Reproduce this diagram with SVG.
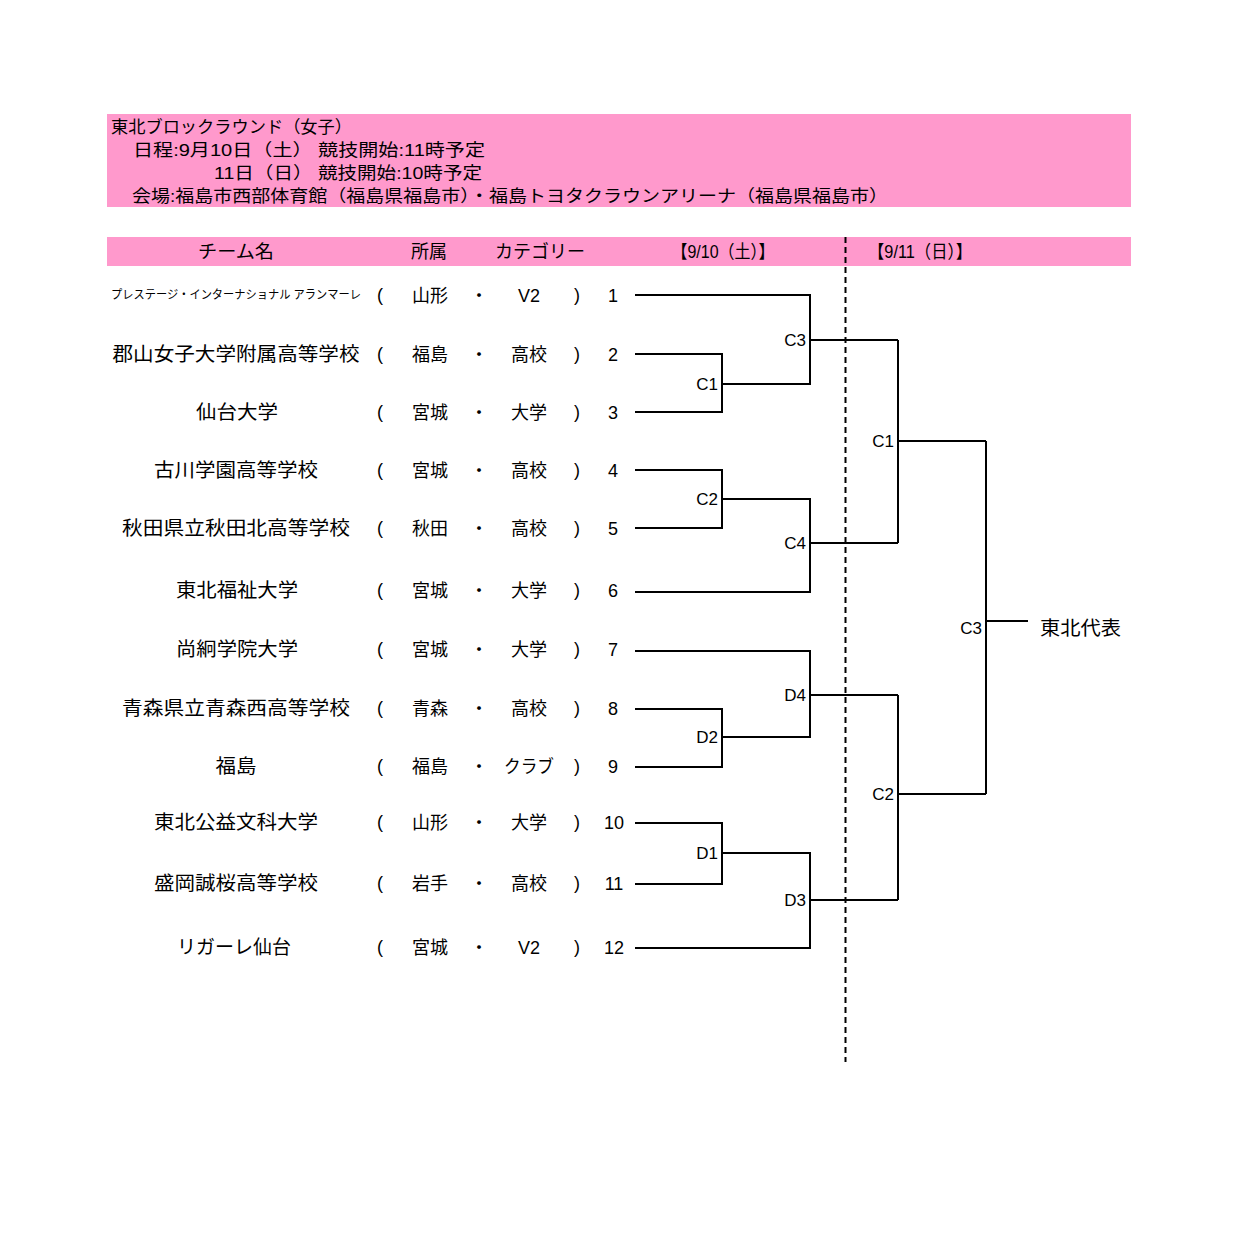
<svg xmlns="http://www.w3.org/2000/svg" width="1241" height="1241" viewBox="0 0 1241 1241">
<style>
text{font-family:"Liberation Sans","Noto Sans CJK JP",sans-serif;fill:#000}
.hd{font-size:17px}
.tm{font-size:19px;text-anchor:middle}
.c{font-size:18px;text-anchor:middle}
.p{font-size:18px;text-anchor:middle}
.lb{font-size:17px;text-anchor:end}
.ln{fill:none;stroke:#000;stroke-width:2}
.pink{fill:#FF99CC}
</style>
<rect width="1241" height="1241" fill="#fff"/>
<g id="header">
<rect class="pink" x="107" y="114" width="1024" height="93"/>
<text class="hd" x="111" y="133" textLength="241" lengthAdjust="spacingAndGlyphs">東北ブロックラウンド（女子）</text>
<text class="hd" x="133" y="156" textLength="352" lengthAdjust="spacingAndGlyphs">日程:9月10日（土） 競技開始:11時予定</text>
<text class="hd" x="214" y="179" textLength="268" lengthAdjust="spacingAndGlyphs">11日（日） 競技開始:10時予定</text>
<text class="hd" x="132" y="202" textLength="756" lengthAdjust="spacingAndGlyphs">会場:福島市西部体育館（福島県福島市）・福島トヨタクラウンアリーナ（福島県福島市）</text>
</g>
<g id="column-header">
<rect class="pink" x="107" y="237" width="1024" height="29"/>
<text class="c" x="236" y="258" textLength="76" lengthAdjust="spacingAndGlyphs">チーム名</text>
<text class="c" x="429" y="258">所属</text>
<text class="c" x="540" y="258" textLength="90" lengthAdjust="spacingAndGlyphs">カテゴリー</text>
<text class="c" x="723" y="258" textLength="103" lengthAdjust="spacingAndGlyphs">【9/10（土）】</text>
<text class="c" x="920" y="258" textLength="104" lengthAdjust="spacingAndGlyphs">【9/11（日）】</text>
</g>
<g id="connectors">
<path class="ln" d="M845.5 237V1062" stroke-width="1.5" stroke-dasharray="6 4"/>
<path class="ln" d="M635 295H810V384H722M635 354H722V412H635M810 340H898"/>
<path class="ln" d="M635 470H722V528H635M722 499H810V592H635M810 543H898"/>
<path class="ln" d="M898 340V543M898 441H986"/>
<path class="ln" d="M635 651H810V737H722M635 709H722V767H635M810 695H898"/>
<path class="ln" d="M635 823H722V884H635M722 853H810V948H635M810 900H898"/>
<path class="ln" d="M898 695V900M898 794H986"/>
<path class="ln" d="M986 441V794M986 621H1028"/>
</g>
<g id="team1"><text class="tm" x="236" y="299" style="font-size:12px" textLength="250" lengthAdjust="spacingAndGlyphs">プレステージ・インターナショナル アランマーレ</text><text class="p" x="380" y="301">(</text><text class="c" x="430" y="302">山形</text><text class="c" x="479" y="302">・</text><text class="c" x="529" y="302">V2</text><text class="p" x="577" y="301">)</text><text class="c" x="613" y="302">1</text></g>
<g id="team2"><text class="tm" x="236" y="361" textLength="247" lengthAdjust="spacingAndGlyphs">郡山女子大学附属高等学校</text><text class="p" x="380" y="360">(</text><text class="c" x="430" y="361">福島</text><text class="c" x="479" y="361">・</text><text class="c" x="529" y="361">高校</text><text class="p" x="577" y="360">)</text><text class="c" x="613" y="361">2</text></g>
<g id="team3"><text class="tm" x="237" y="419" textLength="82" lengthAdjust="spacingAndGlyphs">仙台大学</text><text class="p" x="380" y="418">(</text><text class="c" x="430" y="419">宮城</text><text class="c" x="479" y="419">・</text><text class="c" x="529" y="419">大学</text><text class="p" x="577" y="418">)</text><text class="c" x="613" y="419">3</text></g>
<g id="team4"><text class="tm" x="236" y="477" textLength="164" lengthAdjust="spacingAndGlyphs">古川学園高等学校</text><text class="p" x="380" y="476">(</text><text class="c" x="430" y="477">宮城</text><text class="c" x="479" y="477">・</text><text class="c" x="529" y="477">高校</text><text class="p" x="577" y="476">)</text><text class="c" x="613" y="477">4</text></g>
<g id="team5"><text class="tm" x="236" y="535" textLength="228" lengthAdjust="spacingAndGlyphs">秋田県立秋田北高等学校</text><text class="p" x="380" y="534">(</text><text class="c" x="430" y="535">秋田</text><text class="c" x="479" y="535">・</text><text class="c" x="529" y="535">高校</text><text class="p" x="577" y="534">)</text><text class="c" x="613" y="535">5</text></g>
<g id="team6"><text class="tm" x="237" y="597" textLength="122" lengthAdjust="spacingAndGlyphs">東北福祉大学</text><text class="p" x="380" y="596">(</text><text class="c" x="430" y="597">宮城</text><text class="c" x="479" y="597">・</text><text class="c" x="529" y="597">大学</text><text class="p" x="577" y="596">)</text><text class="c" x="613" y="597">6</text></g>
<g id="team7"><text class="tm" x="237" y="656" textLength="122" lengthAdjust="spacingAndGlyphs">尚絅学院大学</text><text class="p" x="380" y="655">(</text><text class="c" x="430" y="656">宮城</text><text class="c" x="479" y="656">・</text><text class="c" x="529" y="656">大学</text><text class="p" x="577" y="655">)</text><text class="c" x="613" y="656">7</text></g>
<g id="team8"><text class="tm" x="236" y="715" textLength="228" lengthAdjust="spacingAndGlyphs">青森県立青森西高等学校</text><text class="p" x="380" y="714">(</text><text class="c" x="430" y="715">青森</text><text class="c" x="479" y="715">・</text><text class="c" x="529" y="715">高校</text><text class="p" x="577" y="714">)</text><text class="c" x="613" y="715">8</text></g>
<g id="team9"><text class="tm" x="236" y="773" textLength="41" lengthAdjust="spacingAndGlyphs">福島</text><text class="p" x="380" y="772">(</text><text class="c" x="430" y="773">福島</text><text class="c" x="479" y="773">・</text><text class="c" x="529" y="773" textLength="50" lengthAdjust="spacingAndGlyphs">クラブ</text><text class="p" x="577" y="772">)</text><text class="c" x="613" y="773">9</text></g>
<g id="team10"><text class="tm" x="236" y="829" textLength="164" lengthAdjust="spacingAndGlyphs">東北公益文科大学</text><text class="p" x="380" y="828">(</text><text class="c" x="430" y="829">山形</text><text class="c" x="479" y="829">・</text><text class="c" x="529" y="829">大学</text><text class="p" x="577" y="828">)</text><text class="c" x="614" y="829">10</text></g>
<g id="team11"><text class="tm" x="236" y="890" textLength="164" lengthAdjust="spacingAndGlyphs">盛岡誠桜高等学校</text><text class="p" x="380" y="889">(</text><text class="c" x="430" y="890">岩手</text><text class="c" x="479" y="890">・</text><text class="c" x="529" y="890">高校</text><text class="p" x="577" y="889">)</text><text class="c" x="614" y="890">11</text></g>
<g id="team12"><text class="tm" x="234" y="954" textLength="114" lengthAdjust="spacingAndGlyphs">リガーレ仙台</text><text class="p" x="380" y="953">(</text><text class="c" x="430" y="954">宮城</text><text class="c" x="479" y="954">・</text><text class="c" x="529" y="954">V2</text><text class="p" x="577" y="953">)</text><text class="c" x="614" y="954">12</text></g>
<g id="match-C1-r1"><text class="lb" x="718" y="390">C1</text></g>
<g id="match-C2-r1"><text class="lb" x="718" y="505">C2</text></g>
<g id="match-C3-r2"><text class="lb" x="806" y="346">C3</text></g>
<g id="match-C4-r2"><text class="lb" x="806" y="549">C4</text></g>
<g id="match-D2-r1"><text class="lb" x="718" y="743">D2</text></g>
<g id="match-D1-r1"><text class="lb" x="718" y="859">D1</text></g>
<g id="match-D4-r2"><text class="lb" x="806" y="701">D4</text></g>
<g id="match-D3-r2"><text class="lb" x="806" y="906">D3</text></g>
<g id="match-C1-r3"><text class="lb" x="894" y="447">C1</text></g>
<g id="match-C2-r3"><text class="lb" x="894" y="800">C2</text></g>
<g id="match-C3-final"><text class="lb" x="982" y="634">C3</text></g>
<g id="winner"><text x="1040" y="635" style="font-size:19px" textLength="81" lengthAdjust="spacingAndGlyphs">東北代表</text></g>
</svg>
